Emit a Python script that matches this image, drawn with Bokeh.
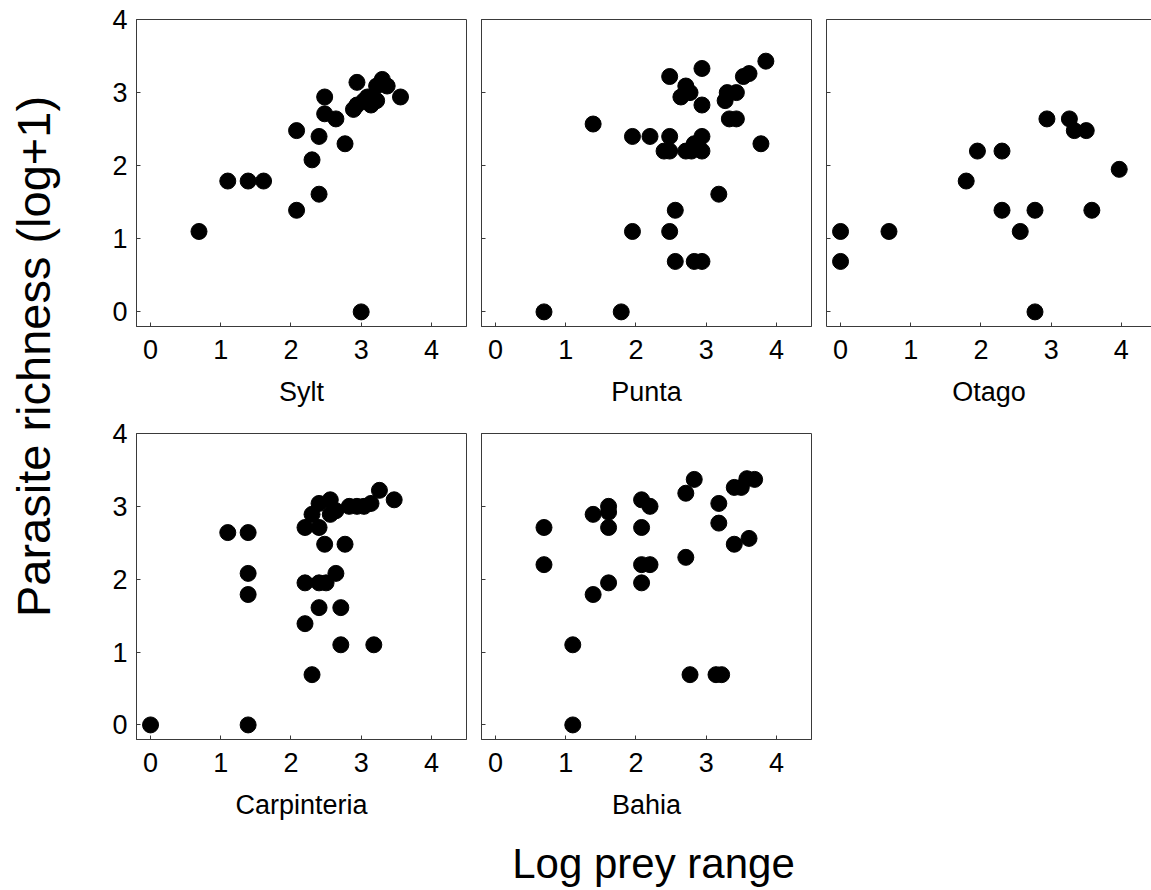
import math
from bokeh.plotting import figure
from bokeh.models import FixedTicker, LinearAxis, Label, Range1d, CustomJSTickFormatter
from bokeh.layouts import row, column
from bokeh.embed import file_html
from bokeh.resources import INLINE

# ---- data ----
sylt_x = [0.69, 1.10, 1.39, 1.61, 2.08, 2.08, 2.30, 2.40, 2.40, 2.48, 2.48, 2.64, 2.77, 2.94,
          2.89, 3.00, 2.94, 3.04, 3.14, 3.09, 3.22, 3.22, 3.30, 3.37, 3.56]
sylt_y = [1.10, 1.79, 1.79, 1.79, 2.48, 1.39, 2.08, 2.40, 1.61, 2.94, 2.71, 2.64, 2.30, 3.14,
          2.77, 0.00, 2.83, 2.89, 2.83, 2.94, 2.89, 3.09, 3.18, 3.09, 2.94]

punta_x = [0.69, 1.79, 1.39, 1.95, 2.20, 2.48, 2.40, 2.48, 2.71, 2.79, 2.83, 2.94, 2.94, 1.95,
           2.48, 2.56, 2.56, 2.83, 2.94, 3.18, 2.48, 2.94, 2.71, 2.77, 2.64, 2.94, 3.30, 3.43,
           3.27, 3.33, 3.43, 3.53, 3.61, 3.85, 3.78]
punta_y = [0.00, 0.00, 2.57, 2.40, 2.40, 2.40, 2.20, 2.20, 2.20, 2.20, 2.30, 2.40, 2.20, 1.10,
           1.10, 1.39, 0.69, 0.69, 0.69, 1.61, 3.22, 3.33, 3.09, 3.00, 2.94, 2.83, 3.00, 3.00,
           2.89, 2.64, 2.64, 3.22, 3.26, 3.43, 2.30]

otago_x = [0.00, 0.00, 0.69, 1.79, 1.95, 2.30, 2.30, 2.56, 2.77, 2.77, 2.94, 3.26, 3.33, 3.50,
           3.58, 3.97]
otago_y = [1.10, 0.69, 1.10, 1.79, 2.20, 2.20, 1.39, 1.10, 1.39, 0.00, 2.64, 2.64, 2.48, 2.48,
           1.39, 1.95]

carp_x = [0.00, 1.39, 1.10, 1.39, 1.39, 1.39, 2.20, 2.30, 2.71, 3.18, 2.40, 2.71, 2.20, 2.40,
          2.50, 2.64, 2.48, 2.77, 2.20, 2.40, 2.30, 2.40, 2.56, 2.56, 2.64, 2.83, 2.94, 3.04,
          3.14, 3.26, 3.47]
carp_y = [0.00, 0.00, 2.64, 2.64, 2.08, 1.79, 1.39, 0.69, 1.10, 1.10, 1.61, 1.61, 1.95, 1.95,
          1.95, 2.08, 2.48, 2.48, 2.71, 2.71, 2.89, 3.04, 3.09, 2.89, 2.94, 3.00, 3.00, 3.00,
          3.04, 3.22, 3.09]

bahia_x = [0.69, 0.69, 1.10, 1.10, 1.39, 1.39, 1.61, 1.61, 1.61, 1.61, 2.08, 2.20, 2.08, 2.08,
           2.20, 2.08, 2.71, 2.83, 2.71, 2.77, 3.14, 3.22, 3.18, 3.18, 3.40, 3.50, 3.40, 3.61,
           3.58, 3.69]
bahia_y = [2.71, 2.20, 1.10, 0.00, 2.89, 1.79, 3.00, 2.92, 2.71, 1.95, 3.09, 3.00, 2.71, 2.20,
           2.20, 1.95, 3.18, 3.37, 2.30, 0.69, 0.69, 0.69, 3.04, 2.77, 3.26, 3.26, 2.48, 2.56,
           3.38, 3.37]

x_ticks = [0, 1, 2, 3, 4]
y_ticks = [0, 1, 2, 3, 4]
y_title = "Parasite richness (log+1)"
x_title = "Log prey range"

FONT = "Liberation Sans"
LINE = "#3a3a3a"
TICK_FS = "27px"


def panel(name, xs, ys, ylabels, x_end=4.5, fw=330, fh=307, left=8, right=7, top=19,
          bottom=94, outline=True):
    p = figure(frame_width=fw, frame_height=fh,
               x_range=Range1d(-0.2, x_end), y_range=Range1d(-0.2, 4.0),
               output_backend="svg", toolbar_location=None,
               min_border_left=left, min_border_right=right,
               min_border_top=top, min_border_bottom=bottom)
    p.grid.visible = False
    p.background_fill_color = "white"
    p.border_fill_color = "white"
    p.outline_line_color = LINE if outline else None
    p.outline_line_width = 1
    p.scatter(xs, ys, size=16, color="black", line_color="black")

    for ax in (p.xaxis[0], p.yaxis[0]):
        ax.axis_line_color = LINE
        ax.major_tick_line_color = LINE
        ax.major_tick_in = 4
        ax.major_tick_out = 0
        ax.minor_tick_line_color = None
        ax.major_label_text_font = FONT
        ax.major_label_text_font_size = TICK_FS
        ax.major_label_text_color = "black"
    p.xaxis[0].ticker = FixedTicker(ticks=x_ticks)
    p.yaxis[0].ticker = FixedTicker(ticks=y_ticks)
    p.xaxis[0].major_label_standoff = 13
    p.xaxis[0].axis_label = name
    p.xaxis[0].axis_label_text_font = FONT
    p.xaxis[0].axis_label_text_font_size = TICK_FS
    p.xaxis[0].axis_label_text_font_style = "normal"
    p.xaxis[0].axis_label_text_color = "black"
    p.xaxis[0].axis_label_standoff = 15
    if ylabels:
        p.yaxis[0].major_label_standoff = 9
    else:
        p.yaxis[0].formatter = CustomJSTickFormatter(code="return ''")
        p.yaxis[0].major_label_standoff = 0
    if not outline:
        top_ax = LinearAxis(ticker=FixedTicker(ticks=[]), axis_line_color=LINE,
                            formatter=CustomJSTickFormatter(code="return ''"),
                            major_label_standoff=0,
                            major_tick_line_color=None, minor_tick_line_color=None)
        p.add_layout(top_ax, "above")
    return p


p1 = panel("Sylt", sylt_x, sylt_y, True, left=36)
p2 = panel("Punta", punta_x, punta_y, False)
p3 = panel("Otago", otago_x, otago_y, False, x_end=-0.2 + 325 / 70.2, fw=325, right=0,
           outline=False)
p4 = panel("Carpinteria", carp_x, carp_y, True, left=36, fh=306, top=13, bottom=81)
p5 = panel("Bahia", bahia_x, bahia_y, False, fh=306, top=13, bottom=81)

# y title strip
yfig = figure(width=100, height=820, x_range=Range1d(0, 100), y_range=Range1d(0, 820),
              output_backend="svg", toolbar_location=None, min_border=0)
yfig.axis.visible = False
yfig.grid.visible = False
yfig.outline_line_color = None
yfig.add_layout(Label(x=33, y=820 - 356, text=y_title, angle=math.pi / 2,
                      text_align="center", text_baseline="middle",
                      text_font=FONT, text_font_size="47px", text_color="black"))

# x title strip
xfig = figure(width=1151, height=70, x_range=Range1d(0, 1151), y_range=Range1d(0, 70),
              output_backend="svg", toolbar_location=None, min_border=0)
xfig.axis.visible = False
xfig.grid.visible = False
xfig.outline_line_color = None
xfig.add_layout(Label(x=653, y=29, text=x_title, text_align="center",
                      text_baseline="middle", text_font=FONT,
                      text_font_size="42px", text_color="black"))

grid = column(row(p1, p2, p3, spacing=0), row(p4, p5, spacing=0), spacing=0)
layout = column(row(yfig, grid, spacing=0), xfig, spacing=0)

open("out.html", "w").write(file_html(layout, INLINE))
